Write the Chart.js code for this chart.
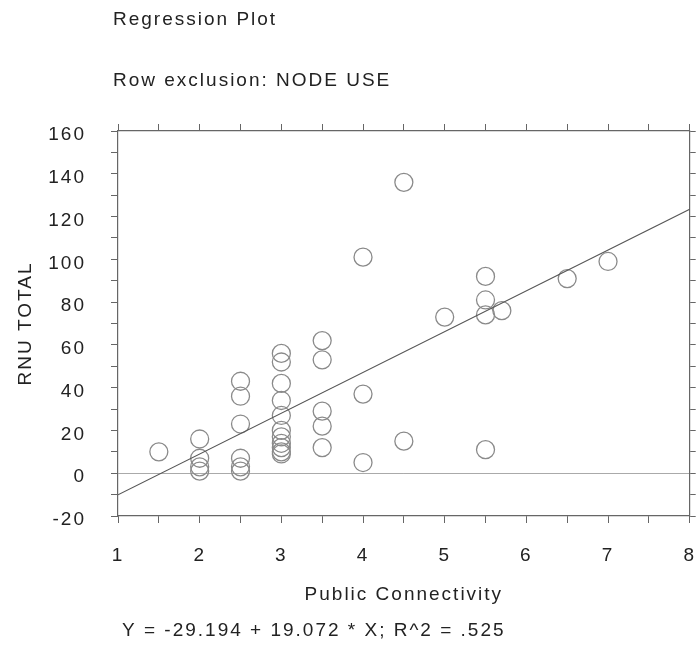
<!DOCTYPE html>
<html>
<head>
<meta charset="utf-8">
<script src="https://cdn.jsdelivr.net/npm/chart.js@4"></script>
<style>
  html, body { margin: 0; padding: 0; background: #fff; }
  #wrap { width: 700px; height: 645px; position: relative; }
</style>
</head>
<body>
<div id="wrap"><canvas id="regChart"></canvas></div>
<script>
// points: x = Public Connectivity, y = RNU TOTAL
const pointX = [1.5,
  2, 2, 2, 2,
  2.5, 2.5, 2.5, 2.5, 2.5, 2.5,
  3, 3, 3, 3, 3, 3, 3, 3, 3, 3, 3,
  3.5, 3.5, 3.5, 3.5, 3.5,
  4, 4, 4,
  4.5, 4.5,
  5,
  5.5, 5.5, 5.5, 5.5,
  5.7, 6.5, 7];
const pointY = [10,
  16, 7, 3, 1,
  43, 36, 23, 7, 3, 1,
  56, 52, 42, 34, 27, 20, 17, 14, 12, 10, 9,
  62, 53, 29, 22, 12,
  101, 37, 5,
  136, 15,
  73,
  92, 81, 74, 11,
  76, 91, 99];

// fitted line, ends as seen at the plot edges
const fitX = [1, 8];
const fitY = [-10.1, 123.4];

const xTicks = [1, 8, 0.5];      // min, max, step
const yTicks = [-20, 160, 10];

const titleText = "Regression Plot";
const subtitleText = "Row exclusion: NODE USE";
const equationText = "Y = -29.194 + 19.072 * X; R^2 = .525";
const xTitle = "Public Connectivity";
const yTitle = "RNU TOTAL";

const axisColor = "#666";
const textColor = "#222";
const spacing = "2px";
const fontStr = "19px 'Liberation Sans', Arial, sans-serif";

Chart.defaults.font.family = "'Liberation Sans', Arial, sans-serif";
Chart.defaults.font.size = 19;
Chart.defaults.color = textColor;

// wide-looking type like the original, and the free text around the plot
const textPlugin = {
  id: "plotText",
  beforeLayout(chart) { chart.ctx.letterSpacing = spacing; },
  beforeDraw(chart) {
    const ctx = chart.ctx;
    ctx.letterSpacing = spacing;
    ctx.save();
    ctx.fillStyle = "#fff";
    ctx.fillRect(0, 0, chart.width, chart.height);
    ctx.restore();
  },
  afterDraw(chart) {
    const ctx = chart.ctx;
    ctx.save();
    ctx.letterSpacing = spacing;
    ctx.font = fontStr;
    ctx.fillStyle = textColor;
    ctx.textAlign = "left";
    ctx.textBaseline = "alphabetic";
    ctx.fillText(titleText, 113, 25);
    ctx.fillText(subtitleText, 113, 86);
    ctx.fillText(equationText, 122, 636);
    ctx.restore();
  }
};

const pts = pointX.map((x, i) => ({ x: x, y: pointY[i] }));
const fit = fitX.map((x, i) => ({ x: x, y: fitY[i] }));

// keep the plot box where the original has it
function fixH(h) {
  return (s) => { s.height = h; s.paddingLeft = 0; s.paddingRight = 0; };
}
function fixW(w) {
  return (s) => { s.width = w; s.paddingTop = 0; s.paddingBottom = 0; };
}

new Chart(document.getElementById("regChart"), {
  type: "scatter",
  data: {
    datasets: [
      {
        label: "fit",
        type: "line",
        data: fit,
        borderColor: "#555",
        borderWidth: 1.2,
        pointRadius: 0,
        fill: false,
        xAxisID: "x",
        yAxisID: "y",
      },
      {
        label: "RNU TOTAL",
        data: pts,
        pointStyle: "circle",
        pointRadius: 9,
        pointBorderWidth: 1.3,
        pointBackgroundColor: "rgba(0,0,0,0)",
        pointBorderColor: "#8a8a8a",
        xAxisID: "x",
        yAxisID: "y",
      },
    ],
  },
  options: {
    responsive: true,
    maintainAspectRatio: false,
    animation: false,
    layout: { padding: 0 },
    plugins: {
      legend: { display: false },
      tooltip: { enabled: false },
    },
    scales: {
      x: {
        type: "linear",
        position: "bottom",
        min: xTicks[0],
        max: xTicks[1],
        afterFit: fixH(129),
        border: { display: true, color: axisColor, width: 1.2 },
        grid: { drawOnChartArea: false, drawTicks: true, tickLength: 7, tickColor: axisColor },
        ticks: {
          stepSize: xTicks[2],
          padding: 21,
          maxRotation: 0,
          autoSkip: false,
          callback: (v) => (Number.isInteger(v) ? v : ""),
        },
        title: { display: true, text: xTitle, padding: { top: 0, bottom: 39 } },
      },
      xTop: {
        type: "linear",
        position: "top",
        min: xTicks[0],
        max: xTicks[1],
        afterFit: fixH(131),
        border: { display: true, color: axisColor, width: 1.2 },
        grid: { drawOnChartArea: false, drawTicks: true, tickLength: 7, tickColor: axisColor },
        ticks: { display: false, stepSize: xTicks[2], autoSkip: false },
      },
      y: {
        type: "linear",
        position: "left",
        min: yTicks[0],
        max: yTicks[1],
        afterFit: fixW(118),
        border: { display: true, color: axisColor, width: 1.2 },
        grid: {
          drawOnChartArea: true,
          drawTicks: true,
          tickLength: 7,
          tickColor: axisColor,
          color: (c) => (c.tick && c.tick.value === 0 ? "#aaa" : "rgba(0,0,0,0)"),
        },
        ticks: {
          stepSize: yTicks[2],
          padding: 25,
          labelOffset: 4,
          autoSkip: false,
          callback: (v) => (v % 20 === 0 ? v : ""),
        },
        title: { display: true, text: yTitle, padding: { top: 14, bottom: 0 } },
      },
      yRight: {
        type: "linear",
        position: "right",
        min: yTicks[0],
        max: yTicks[1],
        afterFit: fixW(6),
        border: { display: true, color: axisColor, width: 1.2 },
        grid: { drawOnChartArea: false, drawTicks: true, tickLength: 6, tickColor: axisColor },
        ticks: { display: false, stepSize: yTicks[2], autoSkip: false },
      },
    },
  },
  plugins: [textPlugin],
});
</script>
</body>
</html>
